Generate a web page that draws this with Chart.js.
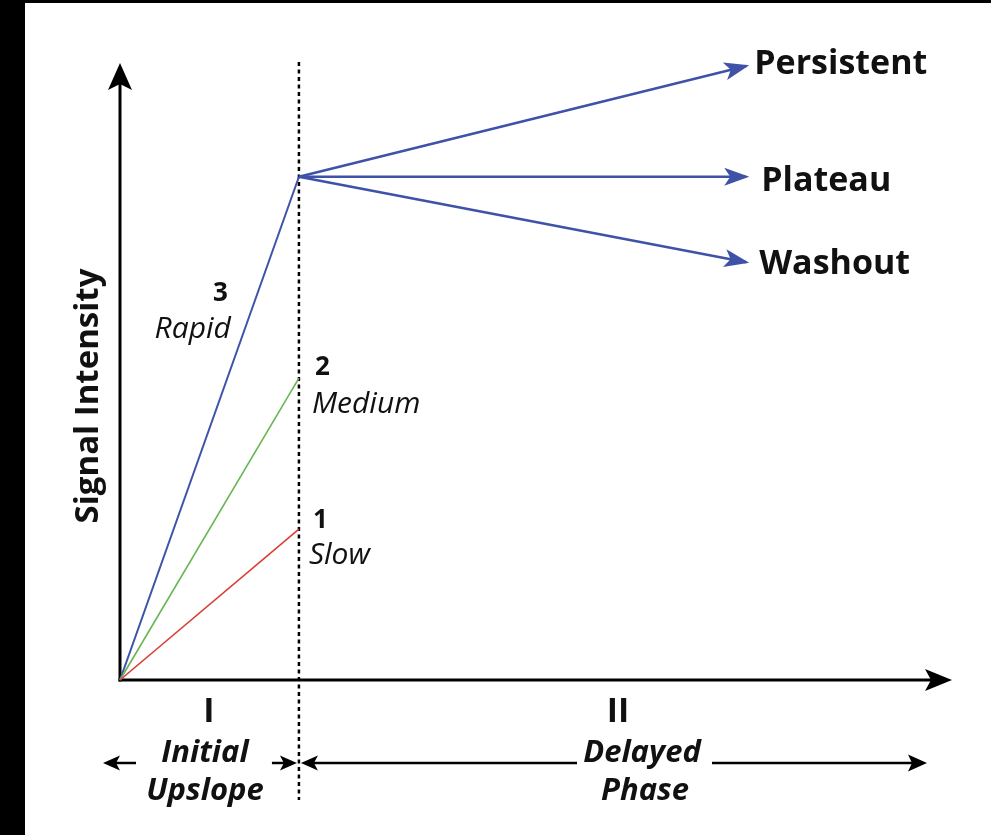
<!DOCTYPE html>
<html>
<head>
<meta charset="utf-8">
<script src="https://cdn.jsdelivr.net/npm/chart.js@4.4.1/dist/chart.umd.min.js"></script>
<style>
  html, body { margin: 0; padding: 0; background: #fff; }
  canvas { display: block; }
</style>
</head>
<body>
<canvas id="curve-chart" width="991" height="835"></canvas>
<script>
// Time-intensity curve types (arbitrary units)
const upslopeTime = [0, 2];
const delayedTime = [2, 7];

const rapidSI = [0, 100];
const mediumSI = [0, 60];
const slowSI = [0, 30];

const persistentSI = [100, 122];
const plateauSI = [100, 100];
const washoutSI = [100, 83];

const upslopeNumbers = ['3', '2', '1'];
const upslopeNames = ['Rapid', 'Medium', 'Slow'];
const delayedNames = ['Persistent', 'Plateau', 'Washout'];
const phaseNumbers = ['I', 'II'];
const phaseNames = [['Initial', 'Upslope'], ['Delayed', 'Phase']];
const yAxisTitle = 'Signal Intensity';

const X_MAX = 9.3;
const Y_MAX = 123;

const BLUE = 'rgb(62, 82, 168)';
const GREEN = 'rgb(104, 182, 84)';
const RED = 'rgb(218, 62, 52)';
const INK = '#111';
const FONT = '"Open Sans", "DejaVu Sans", sans-serif';

const toPoints = (xs, ys) => xs.map((x, i) => ({ x, y: ys[i] }));

function lineSet(label, xs, ys, color, width) {
  return {
    label,
    data: toPoints(xs, ys),
    borderColor: color,
    backgroundColor: color,
    borderWidth: width,
    pointRadius: 0,
    tension: 0,
    fill: false,
    clip: false,
  };
}

// filled "stealth" arrow head, tip at (x, y), pointing along angle
function arrowHead(ctx, x, y, angle, len, halfW, notch, color) {
  ctx.save();
  ctx.translate(x, y);
  ctx.rotate(angle);
  ctx.fillStyle = color;
  ctx.beginPath();
  ctx.moveTo(0, 0);
  ctx.lineTo(-len, -halfW);
  ctx.lineTo(-len + notch, 0);
  ctx.lineTo(-len, halfW);
  ctx.closePath();
  ctx.fill();
  ctx.restore();
}

function hLine(ctx, x1, x2, y, w) {
  ctx.beginPath();
  ctx.lineWidth = w;
  ctx.moveTo(x1, y);
  ctx.lineTo(x2, y);
  ctx.stroke();
}

const diagramPlugin = {
  id: 'diagram',
  beforeDraw(chart) {
    const ctx = chart.ctx;
    ctx.save();
    ctx.fillStyle = '#fff';
    ctx.fillRect(0, 0, chart.width, chart.height);
    // dark frame edges
    ctx.fillStyle = '#000';
    ctx.fillRect(0, 0, 25, chart.height);
    ctx.fillRect(0, 0, chart.width, 3);
    ctx.restore();
  },
  beforeDatasetsDraw(chart) {
    const ctx = chart.ctx;
    const xs = chart.scales.x, ys = chart.scales.y;
    const area = chart.chartArea;
    const x0 = xs.getPixelForValue(0);
    const y0 = ys.getPixelForValue(0);
    ctx.save();
    ctx.strokeStyle = '#000';
    ctx.fillStyle = '#000';

    // phase boundary (dotted)
    const xb = xs.getPixelForValue(upslopeTime[1]);
    ctx.lineWidth = 2.5;
    ctx.setLineDash([4, 3.5]);
    ctx.beginPath();
    ctx.moveTo(xb, area.top + 1);
    ctx.lineTo(xb, 800);
    ctx.stroke();
    ctx.setLineDash([]);

    // axes with arrow heads
    ctx.lineWidth = 3;
    ctx.beginPath();
    ctx.moveTo(x0, y0 + 1.5);
    ctx.lineTo(x0, area.top + 20);
    ctx.stroke();
    arrowHead(ctx, x0, area.top + 2, -Math.PI / 2, 27, 12, 6, '#000');

    ctx.beginPath();
    ctx.moveTo(x0 - 1.5, y0);
    ctx.lineTo(area.right - 20, y0);
    ctx.stroke();
    arrowHead(ctx, area.right, y0, 0, 27, 11, 6, '#000');
    ctx.restore();
  },
  afterDatasetsDraw(chart) {
    const ctx = chart.ctx;
    const xs = chart.scales.x, ys = chart.scales.y;
    const px = v => xs.getPixelForValue(v);
    const py = v => ys.getPixelForValue(v);
    const x0 = px(0);
    const xb = px(upslopeTime[1]);
    ctx.save();

    // arrow heads on delayed-phase curves
    [persistentSI, plateauSI, washoutSI].forEach(s => {
      const xa = px(delayedTime[0]), ya = py(s[0]);
      const xe = px(delayedTime[1]), ye = py(s[1]);
      arrowHead(ctx, xe + 3, ye + 3 * (ye - ya) / (xe - xa), Math.atan2(ye - ya, xe - xa), 25, 9, 6, BLUE);
    });

    ctx.fillStyle = INK;
    ctx.textBaseline = 'alphabetic';

    // delayed-phase curve names
    ctx.font = `bold 34px ${FONT}`;
    ctx.textAlign = 'left';
    const xe = px(delayedTime[1]);
    ctx.fillText(delayedNames[0], xe + 8, py(persistentSI[1]) + 8);
    ctx.fillText(delayedNames[1], xe + 15, py(plateauSI[1]) + 14);
    ctx.fillText(delayedNames[2], xe + 13, py(washoutSI[1]) + 12);

    // upslope curve labels
    ctx.font = `bold 26px ${FONT}`;
    ctx.textAlign = 'right';
    ctx.fillText(upslopeNumbers[0], xb - 71, 301);
    ctx.textAlign = 'left';
    ctx.fillText(upslopeNumbers[1], xb + 16, py(mediumSI[1]) - 3);
    ctx.fillText(upslopeNumbers[2], xb + 14, py(slowSI[1]) - 1);

    ctx.font = `italic 30px ${FONT}`;
    ctx.textAlign = 'right';
    ctx.fillText(upslopeNames[0], xb - 68, 338);
    ctx.textAlign = 'left';
    ctx.fillText(upslopeNames[1], xb + 13, py(mediumSI[1]) + 35);
    ctx.fillText(upslopeNames[2], xb + 10, py(slowSI[1]) + 35);

    // y axis title
    ctx.save();
    ctx.translate(x0 - 22, 396);
    ctx.rotate(-Math.PI / 2);
    ctx.font = `bold 33px ${FONT}`;
    ctx.textAlign = 'center';
    ctx.fillText(yAxisTitle, 0, 0);
    ctx.restore();

    // phase numbers
    ctx.font = `bold 34px ${FONT}`;
    ctx.textAlign = 'center';
    ctx.fillText(phaseNumbers[0], 209, 722);
    ctx.fillText(phaseNumbers[1], 618, 722);

    // phase names
    ctx.font = `italic bold 31px ${FONT}`;
    ctx.fillText(phaseNames[0][0], 205, 762);
    ctx.fillText(phaseNames[0][1], 205, 800);
    ctx.fillText(phaseNames[1][0], 642, 762);
    ctx.fillText(phaseNames[1][1], 645, 800);

    // phase span arrows
    const ya = 763;
    ctx.strokeStyle = '#000';
    hLine(ctx, x0 + 16, x0 - 8, ya, 2.5);
    arrowHead(ctx, x0 - 17, ya, Math.PI, 17, 7.5, 4, '#000');
    hLine(ctx, xb - 27, xb - 10, ya, 2.5);
    arrowHead(ctx, xb - 2, ya, 0, 17, 7.5, 4, '#000');
    hLine(ctx, xb + 12, 577, ya, 2.5);
    arrowHead(ctx, xb + 2, ya, Math.PI, 17, 7.5, 4, '#000');
    hLine(ctx, 712, 915, ya, 2.5);
    arrowHead(ctx, 927, ya, 0, 19, 8.5, 4, '#000');

    ctx.restore();
  }
};

new Chart(document.getElementById('curve-chart'), {
  type: 'line',
  data: {
    datasets: [
      lineSet('Slow', upslopeTime, slowSI, RED, 1.6),
      lineSet('Medium', upslopeTime, mediumSI, GREEN, 1.6),
      lineSet('Rapid', upslopeTime, rapidSI, BLUE, 2),
      lineSet('Persistent', delayedTime, persistentSI, BLUE, 2.4),
      lineSet('Plateau', delayedTime, plateauSI, BLUE, 2.4),
      lineSet('Washout', delayedTime, washoutSI, BLUE, 2.4),
    ]
  },
  plugins: [diagramPlugin],
  options: {
    responsive: false,
    devicePixelRatio: 1,
    animation: false,
    layout: { padding: { left: 120, right: 39, top: 61, bottom: 155 } },
    plugins: {
      legend: { display: false },
      tooltip: { enabled: false }
    },
    scales: {
      x: { type: 'linear', min: 0, max: X_MAX, display: false },
      y: { type: 'linear', min: 0, max: Y_MAX, display: false }
    }
  }
});
</script>
</body>
</html>
